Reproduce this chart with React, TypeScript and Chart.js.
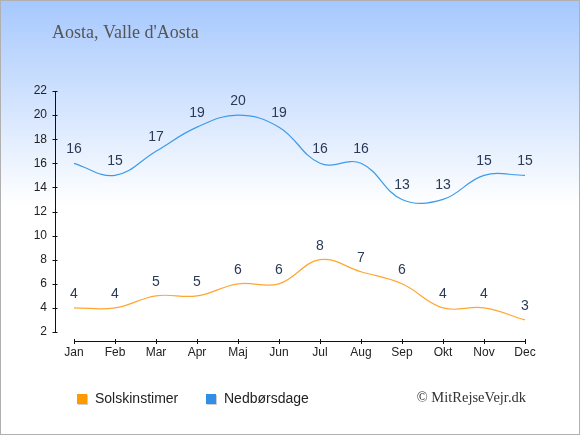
import React, { useEffect, useRef } from "react";
import { Chart, registerables } from "chart.js";

Chart.register(...registerables);

const months = ["Jan", "Feb", "Mar", "Apr", "Maj", "Jun", "Jul", "Aug", "Sep", "Okt", "Nov", "Dec"];
const sunHours = [4, 4, 5, 5, 6, 6, 8, 7, 6, 4, 4, 3];
const rainDays = [16, 15, 17, 19, 20, 19, 16, 16, 13, 13, 15, 15];
const seriesNames = ["Solskinstimer", "Nedbørsdage"];
const yMin = 2;
const yMax = 22;
const yStep = 2;
const titleText = "Aosta, Valle d'Aosta";
const creditText = "© MitRejseVejr.dk";

const ORANGE_LINE = "#ffa630";
const BLUE_LINE = "#3d9be9";
const ORANGE_BOX = "#ff9900";
const BLUE_BOX = "#2f8fe6";
const SANS = '"Liberation Sans", Arial, sans-serif';
const SERIF = '"Liberation Serif", "Times New Roman", serif';

const decor = {
  id: "decor",
  beforeDraw(chart: any) {
    const { ctx, width, height } = chart;
    ctx.save();
    ctx.fillStyle = "#ffffff";
    ctx.fillRect(0, 0, width, height);
    const g = ctx.createLinearGradient(0, 0, 0, 205);
    g.addColorStop(0, "#a6c8fd");
    g.addColorStop(1, "#ffffff");
    ctx.fillStyle = g;
    ctx.fillRect(0, 0, width, 205);
    ctx.strokeStyle = "#b0b0b0";
    ctx.lineWidth = 1;
    ctx.strokeRect(0.5, 0.5, width - 1, height - 1);
    ctx.fillStyle = "#555555";
    ctx.font = "18px " + SERIF;
    ctx.textAlign = "left";
    ctx.textBaseline = "alphabetic";
    ctx.fillText(titleText, 52, 38);
    ctx.restore();
  },
  afterDatasetsDraw(chart: any) {
    const { ctx } = chart;
    ctx.save();
    ctx.font = "14px " + SANS;
    ctx.fillStyle = "#2b3a55";
    ctx.textAlign = "center";
    ctx.textBaseline = "middle";
    chart.data.datasets.forEach((ds: any, i: number) => {
      const meta = chart.getDatasetMeta(i);
      meta.data.forEach((pt: any, j: number) => {
        ctx.fillText(String(ds.data[j]), pt.x, pt.y - 14);
      });
    });
    ctx.restore();
  },
  afterDraw(chart: any) {
    const { ctx, chartArea } = chart;
    const xs = chart.scales.x;
    const ys = chart.scales.y;
    ctx.save();
    ctx.strokeStyle = "#111111";
    ctx.lineWidth = 1;
    // y axis
    const ax = Math.round(chartArea.left - 19) + 0.5;
    const yTop = ys.getPixelForValue(yMax);
    const yBot = ys.getPixelForValue(yMin);
    ctx.beginPath();
    ctx.moveTo(ax, yTop);
    ctx.lineTo(ax, yBot);
    for (let v = yMin; v <= yMax; v += yStep) {
      const py = Math.round(ys.getPixelForValue(v)) + 0.5;
      ctx.moveTo(ax - 3, py);
      ctx.lineTo(ax + 2, py);
    }
    // x axis
    const ay = Math.round(chartArea.bottom + 9) + 0.5;
    const x0 = xs.getPixelForValue(0);
    const x1 = xs.getPixelForValue(months.length - 1);
    ctx.moveTo(x0, ay);
    ctx.lineTo(x1, ay);
    for (let i = 0; i < months.length; i++) {
      const px = Math.round(xs.getPixelForValue(i)) + 0.5;
      ctx.moveTo(px, ay - 2.5);
      ctx.lineTo(px, ay + 2.5);
    }
    ctx.stroke();

    // legend
    const items = [
      { label: chart.data.datasets[0].label, color: ORANGE_BOX, x: 77 },
      { label: chart.data.datasets[1].label, color: BLUE_BOX, x: 206 },
    ];
    ctx.font = "14px " + SANS;
    ctx.textAlign = "left";
    ctx.textBaseline = "middle";
    items.forEach((it) => {
      ctx.fillStyle = "#cfcfcf";
      ctx.fillRect(it.x + 1, 395, 10, 10);
      ctx.fillStyle = it.color;
      ctx.fillRect(it.x, 394, 10, 10);
      ctx.fillStyle = "#222222";
      ctx.fillText(it.label, it.x + 18, 399);
    });

    // credit
    ctx.font = "14.5px " + SERIF;
    ctx.fillStyle = "#333333";
    ctx.textAlign = "right";
    ctx.fillText(creditText, 526, 398);
    ctx.restore();
  },
};

export default function App() {
  const ref = useRef<HTMLCanvasElement | null>(null);
  useEffect(() => {
    document.body.style.margin = "0";
    const canvas = ref.current;
    if (!canvas) return;
    const chart = new Chart(canvas, {
      type: "line",
      data: {
        labels: months,
        datasets: [
          {
            label: seriesNames[0],
            data: sunHours,
            borderColor: ORANGE_LINE,
            backgroundColor: ORANGE_BOX,
            borderWidth: 1.2,
            pointRadius: 0,
            tension: 0.4,
            fill: false,
          },
          {
            label: seriesNames[1],
            data: rainDays,
            borderColor: BLUE_LINE,
            backgroundColor: BLUE_BOX,
            borderWidth: 1.2,
            pointRadius: 0,
            tension: 0.4,
            fill: false,
          },
        ],
      },
      options: {
        responsive: false,
        animation: false,
        devicePixelRatio: 1,
        layout: { padding: { left: 0, right: 55, top: 91, bottom: 63 } },
        plugins: {
          legend: { display: false },
          tooltip: { enabled: false },
          title: { display: false },
        },
        scales: {
          x: {
            type: "category",
            offset: false,
            grid: { display: false, drawTicks: false },
            border: { display: false },
            ticks: {
              padding: 13,
              color: "#222222",
              font: { family: SANS, size: 12 },
              maxRotation: 0,
              autoSkip: false,
            },
            afterFit: (s: any) => {
              s.height = 40;
            },
          },
          y: {
            min: yMin,
            max: yMax,
            grid: { display: false, drawTicks: false },
            border: { display: false },
            ticks: {
              stepSize: yStep,
              padding: 27,
              color: "#222222",
              font: { family: SANS, size: 12 },
            },
            afterFit: (s: any) => {
              s.width = 74;
            },
          },
        },
      },
      plugins: [decor],
    } as any);
    return () => chart.destroy();
  }, []);
  return (
    <div style={{ width: 580, height: 435 }}>
      <canvas ref={ref} width={580} height={435} style={{ display: "block" }} />
    </div>
  );
}
